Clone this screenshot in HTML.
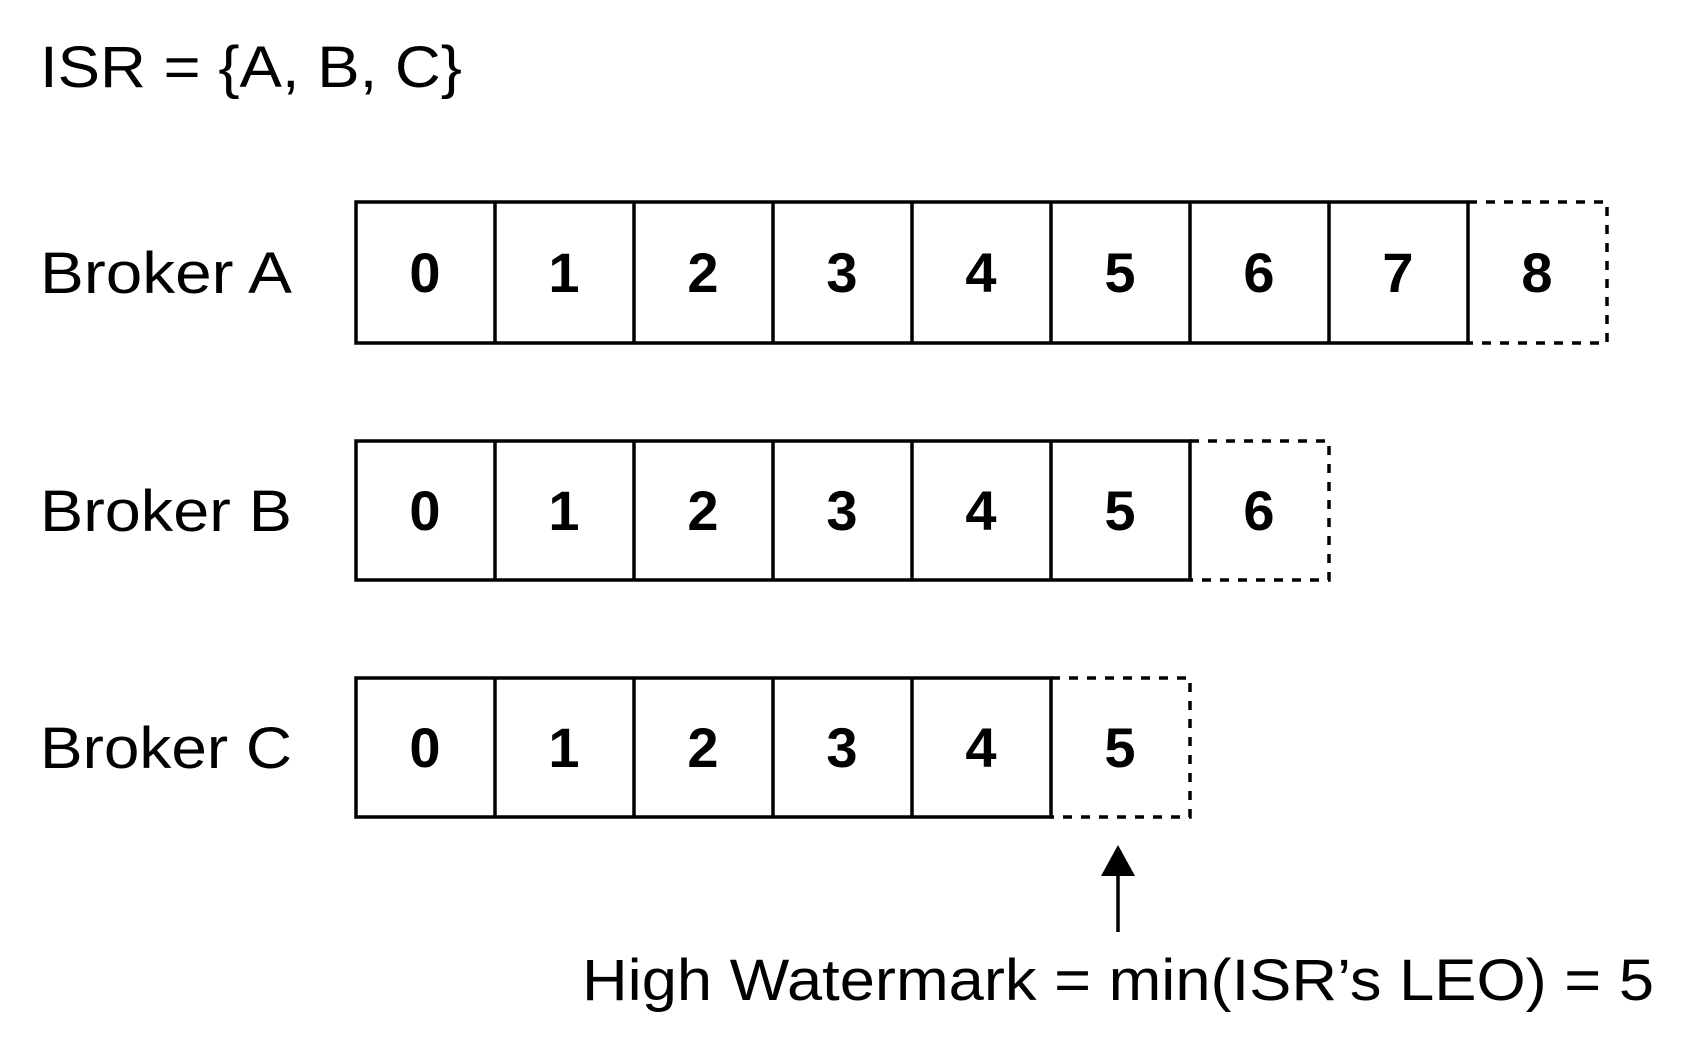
<!DOCTYPE html>
<html><head><meta charset="utf-8"><style>html,body{margin:0;padding:0;background:#fff}svg{display:block}</style></head>
<body>
<svg width="1694" height="1042" viewBox="0 0 1694 1042" xmlns="http://www.w3.org/2000/svg" font-family="Liberation Sans, Arial, sans-serif">
<rect width="1694" height="1042" fill="#fff"/>
<text x="40" y="87" font-size="58" textLength="422" lengthAdjust="spacingAndGlyphs">ISR = {A, B, C}</text>
<g font-size="58">
<text x="40" y="293" textLength="252" lengthAdjust="spacingAndGlyphs">Broker A</text>
<text x="40" y="531" textLength="252" lengthAdjust="spacingAndGlyphs">Broker B</text>
<text x="40" y="768" textLength="252" lengthAdjust="spacingAndGlyphs">Broker C</text>
</g>
<g stroke="#000" stroke-width="3.5" fill="none">
<!-- A -->
<rect x="356" y="202" width="1112" height="141"/>
<path d="M495 202V343M634 202V343M773 202V343M912 202V343M1051 202V343M1190 202V343M1329 202V343"/>
<path d="M1468 202H1607V343H1468" stroke-dasharray="9 9"/>
<!-- B -->
<rect x="356" y="441" width="834" height="139"/>
<path d="M495 441V580M634 441V580M773 441V580M912 441V580M1051 441V580"/>
<path d="M1190 441H1329V580H1190" stroke-dasharray="9 9"/>
<!-- C -->
<rect x="356" y="678" width="695" height="139"/>
<path d="M495 678V817M634 678V817M773 678V817M912 678V817"/>
<path d="M1051 678H1190V817H1051" stroke-dasharray="9 9"/>
<line x1="1118" y1="932" x2="1118" y2="870"/>
</g>
<polygon points="1118,845 1101,876 1135,876" fill="#000"/>
<g font-size="56" font-weight="bold" text-anchor="middle">
<text x="425" y="292">0</text><text x="564" y="292">1</text><text x="703" y="292">2</text><text x="842" y="292">3</text><text x="981" y="292">4</text><text x="1120" y="292">5</text><text x="1259" y="292">6</text><text x="1398" y="292">7</text><text x="1537" y="292">8</text>
<text x="425" y="530">0</text><text x="564" y="530">1</text><text x="703" y="530">2</text><text x="842" y="530">3</text><text x="981" y="530">4</text><text x="1120" y="530">5</text><text x="1259" y="530">6</text>
<text x="425" y="767">0</text><text x="564" y="767">1</text><text x="703" y="767">2</text><text x="842" y="767">3</text><text x="981" y="767">4</text><text x="1120" y="767">5</text>
</g>
<text x="582" y="1000" font-size="58" textLength="1072" lengthAdjust="spacingAndGlyphs">High Watermark = min(ISR’s LEO) = 5</text>
</svg>
</body></html>
